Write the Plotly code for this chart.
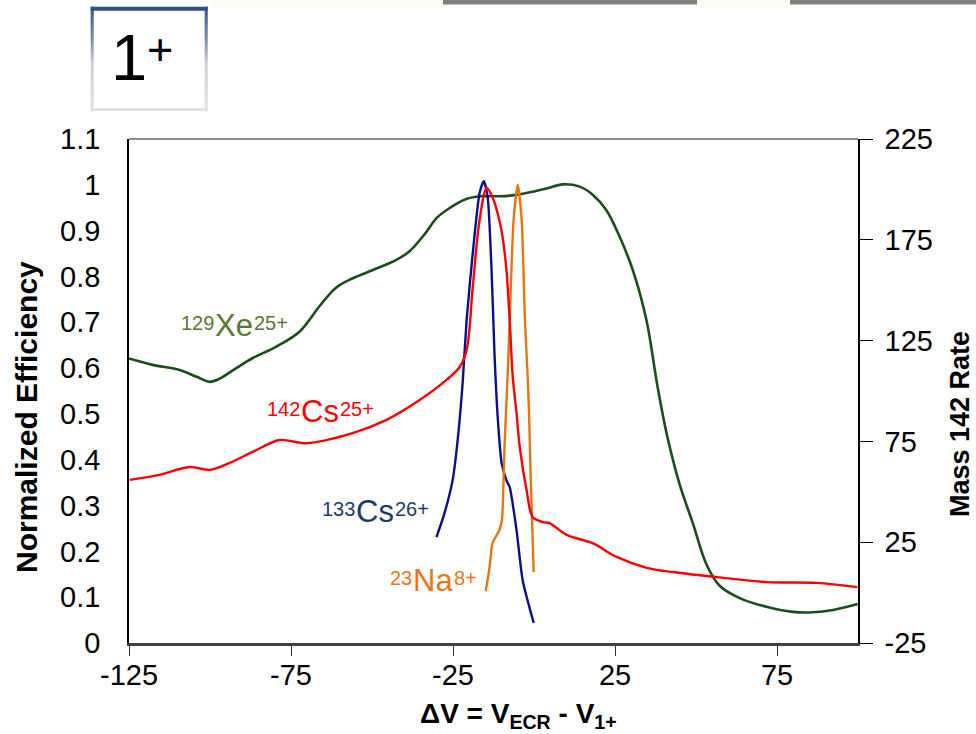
import plotly.graph_objects as go

# ---------------- data ----------------
xe_x = [-125, -117.7, -109.4, -104.1, -100.1, -97.0, -91.9, -86.8, -79.5, -72.3, -66.1, -61.0,
        -55.9, -49.7, -42.5, -38.4, -34.0, -30.0, -26.1, -20.9, -16.6, -10.6, -5.5, -0.3, 3.8,
        9.0, 14.1, 18.2, 22.3, 26.4, 30.5, 34.7, 38.0, 41.0, 45.0, 49.0, 53.2, 57.3, 63.5, 71.7,
        79.9, 86.1, 92.3, 99.9]
xe_y = [0.621, 0.607, 0.596, 0.581, 0.570, 0.577, 0.600, 0.622, 0.647, 0.680, 0.736, 0.776,
        0.796, 0.814, 0.836, 0.855, 0.890, 0.928, 0.949, 0.969, 0.975, 0.975, 0.978, 0.985, 0.992,
        1.001, 0.996, 0.978, 0.945, 0.887, 0.814, 0.705, 0.565, 0.455, 0.345, 0.262, 0.172, 0.125,
        0.098, 0.079, 0.068, 0.067, 0.072, 0.085]

cs142_x = [-124.8, -115.6, -106.3, -100.1, -94.0, -86.8, -78.5, -70.3, -56.0, -45.5, -35.3, -27.0,
           -23.0, -20.8, -18.9, -16.8, -14.6, -12.8, -10.7, -9.7, -8.5, -7.5, -6.6, -5.4, -4.4,
           -2.3, -0.4, 2.7, 4.8, 10.1, 18.1, 25.5, 34.8, 42.8, 56.4, 71.8, 87.2, 99.8]
cs142_rate = [55.9, 58.4, 62.3, 60.9, 64.3, 69.8, 75.7, 74.1, 79.1, 85.7, 95.5, 105.5,
              111.8, 120.2, 151.6, 184.8, 200.7, 196.1, 184.8, 176.4, 160.0, 135.2, 108.0, 89.1, 72.3,
              50.9, 37.5, 35.0, 34.5, 28.6, 24.5, 17.7, 12.3, 10.2, 7.7, 5.2, 4.8, 2.7]

cs133_x = [-30.1, -27.6, -25.1, -23.6, -22.0, -20.8, -18.9, -16.8, -15.5, -14.3, -13.1, -12.2,
           -11.2, -10.0, -8.5, -7.5, -5.4, -3.5, -0.1]
cs133_y = [0.231, 0.284, 0.356, 0.440, 0.570, 0.705, 0.851, 0.982, 1.008, 0.973, 0.814, 0.633,
           0.493, 0.393, 0.355, 0.340, 0.247, 0.137, 0.044]

na_x = [-14.9, -13.7, -12.8, -10.7, -9.9, -9.1, -8.2, -7.5, -6.3, -5.0, -3.8, -2.8, -1.9, -1.5, -1.0, -0.1]
na_y = [0.113, 0.166, 0.218, 0.246, 0.268, 0.428, 0.574, 0.705, 0.923, 1.000, 0.923, 0.705, 0.574,
        0.493, 0.356, 0.155]

x_ticks = [-125, -75, -25, 25, 75]
x_ticktext = ["-125", "-75", "-25", "25", "75"]
y_ticks = [0, 0.1, 0.2, 0.3, 0.4, 0.5, 0.6, 0.7, 0.8, 0.9, 1, 1.1]
y_ticktext = ["0", "0.1", "0.2", "0.3", "0.4", "0.5", "0.6", "0.7", "0.8", "0.9", "1", "1.1"]
y2_ticks = [-25, 25, 75, 125, 175, 225]
y2_ticktext = ["-25", "25", "75", "125", "175", "225"]

# series labels: (mass number, element, charge, colour)
labels = [
    ("129", "Xe", "25+", "#5E7530"),
    ("142", "Cs", "25+", "#FF0000"),
    ("133", "Cs", "26+", "#1C3A6B"),
    ("23", "Na", "8+", "#E8761A"),
]
# label placement in pixels: (left edge, baseline)
label_pos = [(180, 337), (266, 423), (321, 523), (389, 592)]

FONT = "Liberation Sans, Arial, sans-serif"
W, H = 976, 734
L, R, T, B = 129, 118, 139, 91
PW, PH = W - L - R, H - T - B


def px(xp):
    return (xp - L) / PW


def py(yp):
    return (H - B - yp) / PH


ADV = {"X": .667, "e": .556, "C": .722, "s": .5, "N": .722, "a": .556, "+": .584}


def tw(s, size):
    return sum(ADV.get(ch, .556) for ch in s) * size


fig = go.Figure()
fig.add_trace(go.Scatter(x=xe_x, y=xe_y, mode="lines", line=dict(color="#1B4D1B", width=2.6, shape="spline", smoothing=1.0), name="Xe"))
fig.add_trace(go.Scatter(x=cs142_x, y=cs142_rate, yaxis="y2", mode="lines", line=dict(color="#FF0000", width=2.4, shape="spline", smoothing=0.9), name="Cs142"))
fig.add_trace(go.Scatter(x=cs133_x, y=cs133_y, mode="lines", line=dict(color="#0E0E8C", width=2.4, shape="spline", smoothing=0.6), name="Cs133"))
fig.add_trace(go.Scatter(x=na_x, y=na_y, mode="lines", line=dict(color="#E8760F", width=2.4, shape="spline", smoothing=0.6), name="Na"))

ann = []
MS, SS = 31, 20
for (mass, el, q, c), (lx, base) in zip(labels, label_pos):
    w_mass = tw(mass, SS)
    w_el = tw(el, MS)
    main_mid = base - 0.358 * MS
    sup_mid = base - 0.716 * MS + 0.40 * SS
    x_el = lx + w_mass + 1
    ann.append(dict(text=mass, x=px(lx), y=py(sup_mid), xref="paper", yref="paper", xanchor="left", yanchor="middle",
                    showarrow=False, borderpad=0, font=dict(family=FONT, size=SS, color=c)))
    ann.append(dict(text=el, x=px(x_el), y=py(main_mid), xref="paper", yref="paper", xanchor="left", yanchor="middle",
                    showarrow=False, borderpad=0, font=dict(family=FONT, size=MS, color=c)))
    ann.append(dict(text=q, x=px(x_el + w_el + 1), y=py(sup_mid), xref="paper", yref="paper", xanchor="left",
                    yanchor="middle", showarrow=False, borderpad=0, font=dict(family=FONT, size=SS, color=c)))

# axis titles
ann.append(dict(text="<b>Normalized Efficiency</b>", textangle=-90, x=px(26), y=py(417), xref="paper", yref="paper",
                xanchor="center", yanchor="middle", showarrow=False, font=dict(family=FONT, size=30, color="black")))
ann.append(dict(text="<b>Mass 142 Rate</b>", textangle=-90, x=px(960), y=py(424), xref="paper", yref="paper",
                xanchor="center", yanchor="middle", showarrow=False, font=dict(family=FONT, size=27, color="black")))
ann.append(dict(text="<b>ΔV = V<sub>ECR</sub> - V<sub>1+</sub></b>", x=px(518), y=py(734), xref="paper", yref="paper",
                xanchor="center", yanchor="bottom", showarrow=False, borderpad=0, font=dict(family=FONT, size=28, color="black")))
# "1+" box text
ann.append(dict(text="1", x=px(129), y=py(58), xref="paper", yref="paper", xanchor="center", yanchor="middle",
                showarrow=False, font=dict(family=FONT, size=65, color="black")))
ann.append(dict(text="+", x=px(160), y=py(50), xref="paper", yref="paper", xanchor="center", yanchor="middle",
                showarrow=False, font=dict(family=FONT, size=45, color="black")))

shapes = []
# top strip and gray bars
shapes.append(dict(type="rect", xref="paper", yref="paper", x0=px(211), x1=px(976), y0=py(7), y1=py(0),
                   fillcolor="#FFFBEF", line=dict(width=0), layer="below"))
for a, b in [(443, 697), (790, 976)]:
    shapes.append(dict(type="rect", xref="paper", yref="paper", x0=px(a), x1=px(b), y0=py(4.5), y1=py(0),
                       fillcolor="#7F7F7F", line=dict(width=0)))

# gradient box border
stops = [(0.0, (43, 82, 136)), (0.3, (120, 138, 175)), (0.55, (214, 204, 208)), (1.0, (229, 225, 227))]


def grad(t):
    for (t0, c0), (t1, c1) in zip(stops[:-1], stops[1:]):
        if t <= t1:
            f = (t - t0) / (t1 - t0)
            return "rgb(%d,%d,%d)" % tuple(int(round(c0[i] + f * (c1[i] - c0[i]))) for i in range(3))
    return "rgb(%d,%d,%d)" % stops[-1][1]


bx0, bx1, by0, by1 = 90.7, 207.7, 6.7, 111.0
N = 30
for i in range(N):
    ya = by0 + (by1 - by0) * i / N
    yb = by0 + (by1 - by0) * (i + 1) / N + 0.5
    col = grad((i + 0.5) / N)
    for xx in (bx0 + 1.5, bx1 - 1.5):
        shapes.append(dict(type="line", xref="paper", yref="paper", x0=px(xx), x1=px(xx), y0=py(ya), y1=py(yb),
                           line=dict(color=col, width=3)))
shapes.append(dict(type="line", xref="paper", yref="paper", x0=px(bx0), x1=px(bx1), y0=py(by0 + 2), y1=py(by0 + 2),
                   line=dict(color=grad(0), width=4)))
shapes.append(dict(type="line", xref="paper", yref="paper", x0=px(bx0), x1=px(bx1), y0=py(by1 - 1.5), y1=py(by1 - 1.5),
                   line=dict(color=grad(1), width=3)))
# top plot border
shapes.append(dict(type="line", xref="paper", yref="paper", x0=0, x1=1, y0=1, y1=1,
                   line=dict(color="#8A8A8A", width=2)))

fig.update_layout(
    width=W, height=H, margin=dict(l=L, r=R, t=T, b=B),
    paper_bgcolor="white", plot_bgcolor="white", showlegend=False,
    font=dict(family=FONT, color="black"),
    xaxis=dict(range=[-125, 100], tickvals=x_ticks, ticktext=x_ticktext, ticks="outside", ticklen=10, tickwidth=1,
               tickcolor="#303030", showline=True, linecolor="#404040", linewidth=2.5, showgrid=False, zeroline=False,
               tickfont=dict(size=29, family=FONT), ticklabelstandoff=-6),
    yaxis=dict(range=[0, 1.1], tickvals=y_ticks, ticktext=y_ticktext, ticks="", showline=True, linecolor="black",
               linewidth=1.5, showgrid=False, zeroline=False, tickfont=dict(size=29, family=FONT), ticklabelstandoff=21),
    yaxis2=dict(range=[-25, 225], tickvals=y2_ticks, ticktext=y2_ticktext, overlaying="y", side="right", anchor="x",
                ticks="outside", ticklen=13, tickcolor="black", showline=True, linecolor="black", linewidth=1.5,
                showgrid=False, zeroline=False, tickfont=dict(size=29, family=FONT), ticklabelstandoff=6),
    yaxis3=dict(range=[-25, 225], tickvals=y2_ticks, overlaying="y", side="right", anchor="x", ticks="inside",
                ticklen=10, tickcolor="black", showline=False, showgrid=False, zeroline=False, showticklabels=False),
    annotations=ann, shapes=shapes,
)
fig.write_html("out.html")
